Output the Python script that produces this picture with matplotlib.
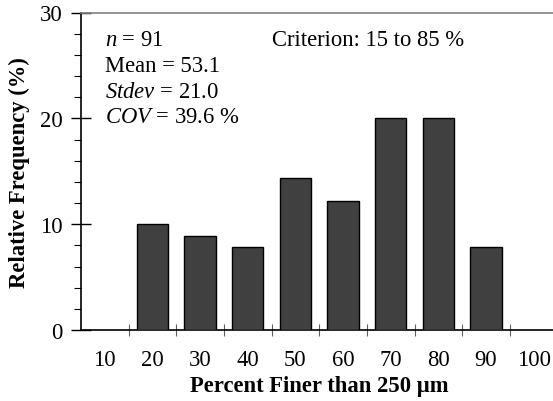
import numpy as np
import matplotlib.pyplot as plt
from matplotlib.ticker import MultipleLocator, FixedLocator

plt.rcParams['font.family'] = 'Liberation Serif'
plt.rcParams['mathtext.fontset'] = 'custom'
plt.rcParams['mathtext.rm'] = 'Liberation Serif'
plt.rcParams['mathtext.it'] = 'Liberation Serif:italic'

# histogram of percent finer than 250 um
bins = ["10", "20", "30", "40", "50", "60", "70", "80", "90", "100"]
freq = [0, 10.0, 8.9, 7.8, 14.4, 12.2, 20.0, 20.0, 7.8, 0]

FS = 16.3
fig = plt.figure(figsize=(5.53, 4.02), dpi=100)
W, H = 553, 402
left, right, top, bottom = 81, 557.5, 13.5, 331
ax = fig.add_axes([left / W, 1 - bottom / H, (right - left) / W, (bottom - top) / H])

x = np.arange(len(bins))
freq = np.array(freq)
nz = freq > 0
ax.bar(x[nz], freq[nz], width=0.66, color='#404040', edgecolor='black', linewidth=1.0, zorder=3)

ax.set_xlim(-0.5, len(bins) - 0.5)
ax.set_ylim(0, 30)

ax.set_xticks(x)
ax.set_xticklabels(bins, fontsize=FS)
ax.xaxis.set_minor_locator(FixedLocator(x[1:] - 0.5))
ax.tick_params(axis='x', which='major', length=0, pad=14)
ax.tick_params(axis='x', which='minor', direction='inout', length=9, width=0.8, color='#606060')

ax.yaxis.set_major_locator(MultipleLocator(10))
ax.yaxis.set_minor_locator(MultipleLocator(2))
ax.tick_params(axis='y', which='major', direction='inout', length=14, width=1, labelsize=FS, pad=6)
ax.tick_params(axis='y', which='minor', direction='out', length=5, width=0.8)

ax.spines['right'].set_visible(False)
ax.spines['top'].set_color('#808080')
ax.spines['top'].set_linewidth(1.2)
ax.spines['left'].set_linewidth(1.2)
ax.spines['bottom'].set_linewidth(1.2)

ax.set_xlabel('Percent Finer than 250 µm', fontsize=FS, fontweight='bold', labelpad=3)
ax.set_ylabel('Relative Frequency (%)', fontsize=FS, fontweight='bold', labelpad=7)

stats = [r"$n$ = 91", "Mean = 53.1", r"$Stdev$ = 21.0", r"$COV$ = 39.6 %"]
for i, s in enumerate(stats):
    fig.text(105 / W, 1 - (46.5 + 25.5 * i) / H, s, fontsize=FS, va='baseline', ha='left')
fig.text(272 / W, 1 - 46.5 / H, "Criterion: 15 to 85 %", fontsize=FS, va='baseline', ha='left')

fig.savefig('out.png', dpi=100)
